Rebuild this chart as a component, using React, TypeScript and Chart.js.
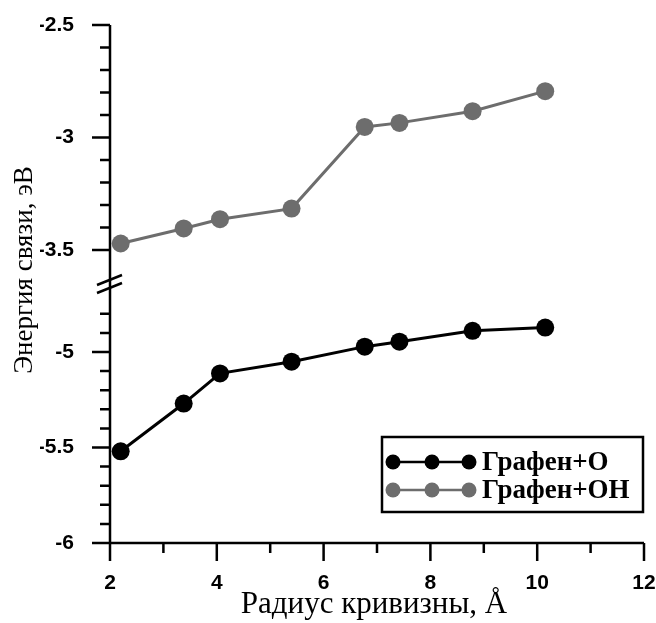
import React, { useEffect, useRef } from 'react';
import { Chart, registerables } from 'chart.js';

Chart.register(...registerables);

// ---- data ----
const radius = [2.2, 3.38, 4.06, 5.4, 6.77, 7.42, 8.79, 10.15];
const energyO = [-5.52, -5.27, -5.112, -5.051, -4.972, -4.946, -4.889, -4.872];
const energyOH = [-3.471, -3.404, -3.363, -3.316, -2.953, -2.935, -2.883, -2.794];
const seriesLabels = ['Графен+О', 'Графен+ОН'];
const xTicks = [2, 4, 6, 8, 10, 12];
const xMinorTicks = [3, 5, 7, 9, 11];
const yUpperTicks = [-3.5, -3, -2.5];
const yLowerTicks = [-6, -5.5, -5];
const yUpperMinor = [-3.4, -3.3, -3.2, -3.1, -2.9, -2.8, -2.7, -2.6];
const yLowerMinor = [-5.9, -5.8, -5.7, -5.6, -5.4, -5.3, -5.2, -5.1, -4.9, -4.8];
const xRange = [2, 12];
const yUpperRange = [-3.651, -2.5];
const yLowerRange = [-6, -4.644];
const xTitle = 'Радиус кривизны, Å';
const yTitle = 'Энергия связи, эВ';

const COLOR_O = '#000000';
const COLOR_OH = '#6d6d6d';
const SERIF = "'Liberation Serif', 'Times New Roman', serif";
const SANS = "'Liberation Sans', Arial, sans-serif";

const fmt = (v: number) => String(Math.round(v * 10) / 10);

const decorPlugin = {
  id: 'decor',
  afterDraw(chart: any) {
    const { ctx, chartArea, scales } = chart;
    const x = scales.x;
    const yU = scales.yHigh;
    const yL = scales.yLow;
    const left = chartArea.left;
    const bottom = chartArea.bottom;
    ctx.save();
    ctx.strokeStyle = '#000';
    ctx.lineWidth = 2.5;
    ctx.lineCap = 'butt';
    // axis lines
    ctx.beginPath();
    ctx.moveTo(left, chartArea.top);
    ctx.lineTo(left, bottom);
    ctx.moveTo(left, bottom);
    ctx.lineTo(chartArea.right, bottom);
    ctx.stroke();
    const MAJ = 18;
    const MIN = 10;
    // y ticks
    ctx.beginPath();
    const yTick = (sc: any, v: number, len: number) => {
      const p = sc.getPixelForValue(v);
      ctx.moveTo(left - len, p);
      ctx.lineTo(left, p);
    };
    yUpperTicks.forEach((v) => yTick(yU, v, MAJ));
    yLowerTicks.forEach((v) => yTick(yL, v, MAJ));
    yUpperMinor.forEach((v) => yTick(yU, v, MIN));
    yLowerMinor.forEach((v) => yTick(yL, v, MIN));
    // x ticks
    const xTick = (v: number, len: number) => {
      const p = x.getPixelForValue(v);
      ctx.moveTo(p, bottom);
      ctx.lineTo(p, bottom + len);
    };
    xTicks.forEach((v) => xTick(v, MAJ));
    xMinorTicks.forEach((v) => xTick(v, MIN));
    ctx.stroke();
    // axis break marks
    const by = yU.bottom;
    ctx.lineWidth = 2.5;
    ctx.beginPath();
    [-4, 4].forEach((d) => {
      ctx.moveTo(left - 13, by + d + 5);
      ctx.lineTo(left + 12, by + d - 5);
    });
    ctx.stroke();

    // titles
    ctx.fillStyle = '#000';
    ctx.font = `31px ${SERIF}`;
    ctx.textAlign = 'center';
    ctx.textBaseline = 'alphabetic';
    ctx.fillText(xTitle, 374, 613);
    ctx.save();
    ctx.translate(32, 270);
    ctx.rotate(-Math.PI / 2);
    ctx.font = `27px ${SERIF}`;
    ctx.fillText(yTitle, 0, 0);
    ctx.restore();

    // legend
    const lx = 382, ly = 437, lw = 261, lh = 75;
    ctx.fillStyle = '#fff';
    ctx.fillRect(lx, ly, lw, lh);
    ctx.strokeStyle = '#000';
    ctx.lineWidth = 2.5;
    ctx.strokeRect(lx, ly, lw, lh);
    const rows = [
      { label: seriesLabels[0], color: COLOR_O, y: ly + 25 },
      { label: seriesLabels[1], color: COLOR_OH, y: ly + 53 },
    ];
    rows.forEach((r) => {
      ctx.strokeStyle = r.color;
      ctx.lineWidth = 2.5;
      ctx.beginPath();
      ctx.moveTo(lx + 11, r.y);
      ctx.lineTo(lx + 87, r.y);
      ctx.stroke();
      ctx.fillStyle = r.color;
      [lx + 11, lx + 50, lx + 87].forEach((cx) => {
        ctx.beginPath();
        ctx.arc(cx, r.y, 7.5, 0, Math.PI * 2);
        ctx.fill();
      });
      ctx.fillStyle = '#000';
      ctx.font = `bold 27px ${SERIF}`;
      ctx.textAlign = 'left';
      ctx.textBaseline = 'middle';
      ctx.fillText(r.label, lx + 100, r.y + 1);
    });
    ctx.restore();
  },
};

const zeroPad = (s: any) => {
  s.paddingLeft = 0;
  s.paddingRight = 0;
  s.paddingTop = 0;
  s.paddingBottom = 0;
};

export default function App() {
  const ref = useRef<HTMLCanvasElement | null>(null);
  useEffect(() => {
    document.body.style.margin = '0';
    const canvas = ref.current;
    if (!canvas) return;
    const tickFont = { family: SANS, size: 21, weight: 'bold' as const };
    const chart = new Chart(canvas, {
      type: 'line',
      data: {
        datasets: [
          {
            label: seriesLabels[0],
            data: radius.map((r, i) => ({ x: r, y: energyO[i] })),
            yAxisID: 'yLow',
            borderColor: COLOR_O,
            backgroundColor: COLOR_O,
            borderWidth: 3,
            pointRadius: 9,
            pointBorderWidth: 0,
            pointBackgroundColor: COLOR_O,
            tension: 0,
          },
          {
            label: seriesLabels[1],
            data: radius.map((r, i) => ({ x: r, y: energyOH[i] })),
            yAxisID: 'yHigh',
            borderColor: COLOR_OH,
            backgroundColor: COLOR_OH,
            borderWidth: 3,
            pointRadius: 9,
            pointBorderWidth: 0,
            pointBackgroundColor: COLOR_OH,
            tension: 0,
          },
        ],
      },
      options: {
        responsive: false,
        animation: false,
        events: [],
        layout: { padding: { left: 40, right: 12, top: 25, bottom: 0 } },
        plugins: { legend: { display: false }, tooltip: { enabled: false }, title: { display: false } },
        scales: {
          x: {
            type: 'linear',
            min: xRange[0],
            max: xRange[1],
            grid: { display: false },
            border: { display: false },
            afterBuildTicks: (s: any) => {
              s.ticks = xTicks.map((v) => ({ value: v }));
            },
            afterFit: (s: any) => {
              s.height = 80;
              zeroPad(s);
            },
            ticks: { font: tickFont, color: '#000', padding: 20, maxRotation: 0, autoSkip: false, callback: (v: any) => fmt(Number(v)) },
          },
          yLow: {
            type: 'linear',
            position: 'left',
            stack: 'energy',
            stackWeight: 1,
            min: yLowerRange[0],
            max: yLowerRange[1],
            grid: { display: false },
            border: { display: false },
            afterBuildTicks: (s: any) => {
              s.ticks = yLowerTicks.map((v) => ({ value: v }));
            },
            afterFit: (s: any) => {
              s.width = 70;
              zeroPad(s);
            },
            ticks: { font: tickFont, color: '#000', padding: 28, autoSkip: false, callback: (v: any) => fmt(Number(v)) },
          },
          yHigh: {
            type: 'linear',
            position: 'left',
            stack: 'energy',
            stackWeight: 1,
            min: yUpperRange[0],
            max: yUpperRange[1],
            grid: { display: false },
            border: { display: false },
            afterBuildTicks: (s: any) => {
              s.ticks = yUpperTicks.map((v) => ({ value: v }));
            },
            afterFit: (s: any) => {
              s.width = 70;
              zeroPad(s);
            },
            ticks: { font: tickFont, color: '#000', padding: 28, autoSkip: false, callback: (v: any) => fmt(Number(v)) },
          },
        },
      } as any,
      plugins: [decorPlugin],
    });
    return () => chart.destroy();
  }, []);
  return (
    <div style={{ width: 656, height: 623, background: '#fff' }}>
      <canvas ref={ref} width={656} height={623} style={{ display: 'block' }} />
    </div>
  );
}
